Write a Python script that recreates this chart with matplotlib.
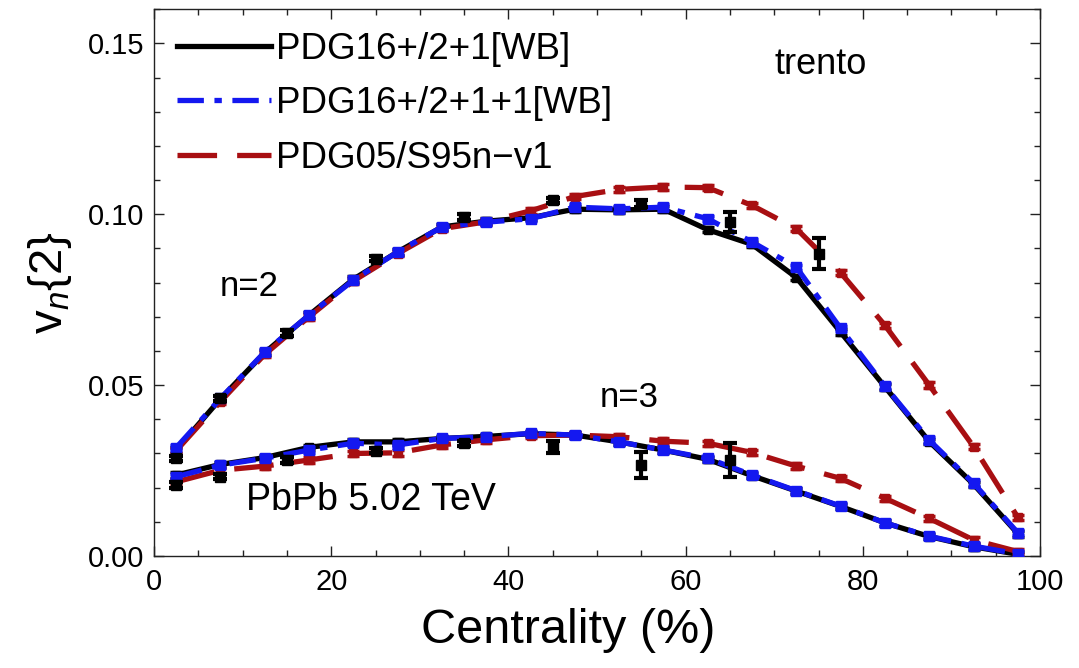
import matplotlib
matplotlib.use("Agg")
import matplotlib.pyplot as plt
from matplotlib.lines import Line2D
from matplotlib.ticker import MultipleLocator

plt.rcParams['font.family'] = ['Liberation Sans', 'DejaVu Sans']
plt.rcParams['mathtext.fontset'] = 'custom'
plt.rcParams['mathtext.rm'] = 'Liberation Sans'
plt.rcParams['mathtext.it'] = 'Liberation Sans:italic'

# ---------------- data ----------------
cent_model = [2.5, 7.5, 12.5, 17.5, 22.5, 27.5, 32.5, 37.5, 42.5, 47.5,
              52.5, 57.5, 62.5, 67.5, 72.5, 77.5, 82.5, 87.5, 92.5, 97.5]

v2_black = [0.0310, 0.0460, 0.0595, 0.0705, 0.0810, 0.0890, 0.0963, 0.0980, 0.0990, 0.1015,
            0.1013, 0.1015, 0.0955, 0.0912, 0.0815, 0.0655, 0.0495, 0.0335, 0.0210, 0.0065]
v2_blue = [0.0317, 0.0461, 0.0597, 0.0705, 0.0807, 0.0890, 0.0963, 0.0977, 0.0987, 0.1021,
           0.1016, 0.1021, 0.0987, 0.0919, 0.0845, 0.0666, 0.0497, 0.0339, 0.0213, 0.0068]
v2_red = [0.0308, 0.0452, 0.0590, 0.0700, 0.0805, 0.0885, 0.0958, 0.0978, 0.1010, 0.1052,
          0.1073, 0.1080, 0.1078, 0.1026, 0.0958, 0.0829, 0.0675, 0.0500, 0.0320, 0.0113]

v3_black = [0.0237, 0.0268, 0.0288, 0.0318, 0.0334, 0.0334, 0.0344, 0.0350, 0.0358, 0.0354,
            0.0334, 0.0310, 0.0283, 0.0235, 0.0190, 0.0145, 0.0097, 0.0057, 0.0027, 0.0005]
v3_blue = [0.0232, 0.0266, 0.0286, 0.0310, 0.0330, 0.0325, 0.0344, 0.0349, 0.0359, 0.0354,
           0.0334, 0.0310, 0.0286, 0.0237, 0.0191, 0.0146, 0.0097, 0.0058, 0.0029, 0.0006]
v3_red = [0.0217, 0.0251, 0.0263, 0.0281, 0.0300, 0.0302, 0.0325, 0.0340, 0.0352, 0.0354,
          0.0349, 0.0336, 0.0330, 0.0303, 0.0263, 0.0227, 0.0169, 0.0110, 0.0047, 0.0013]

cent_data2 = [2.5, 7.5, 15, 25, 35, 45, 55, 65, 75]
v2_data = [0.0286, 0.0461, 0.0653, 0.0870, 0.0992, 0.1041, 0.1031, 0.0977, 0.0885]
v2_err = [0.0008, 0.0008, 0.0008, 0.0008, 0.0008, 0.0008, 0.0010, 0.0030, 0.0046]

cent_data3 = [2.5, 7.5, 15, 25, 35, 45, 55, 65]
v3_data = [0.0208, 0.0232, 0.0281, 0.0308, 0.0330, 0.0320, 0.0266, 0.0280]
v3_err = [0.0008, 0.0008, 0.0008, 0.0008, 0.0008, 0.0018, 0.0037, 0.0050]

labels = ['PDG16+/2+1[WB]', 'PDG16+/2+1+1[WB]', 'PDG05/S95n\u2212v1']

# ---------------- style ----------------
C_BLACK = '#000000'
C_BLUE = '#1418f0'
C_RED = '#a80f12'
LW = 3.8
LS_BLACK = '-'
LS_BLUE = (0, (5, 2, 1.4, 2))
LS_RED = (0, (7.5, 3.8))
MODEL_ERR = 0.0008

fig = plt.figure(figsize=(10.79, 6.68), dpi=100)
ax = fig.add_axes([154 / 1079, 1 - 556 / 668, 886 / 1079, 546.7 / 668])


def model(x, y, color, ls, ms, z):
    ax.plot(x, y, color=color, lw=LW, ls=ls, zorder=z)
    ax.errorbar(x, y, yerr=MODEL_ERR, fmt='s', color=color, ms=ms, mec=color,
                elinewidth=2.5, capsize=4, capthick=2.5, zorder=z + 0.1)


model(cent_model, v2_black, C_BLACK, LS_BLACK, 6, 2)
model(cent_model, v3_black, C_BLACK, LS_BLACK, 6, 2)
model(cent_model, v2_red, C_RED, LS_RED, 6, 3)
model(cent_model, v3_red, C_RED, LS_RED, 6, 3)
model(cent_model, v2_blue, C_BLUE, LS_BLUE, 7, 4)
model(cent_model, v3_blue, C_BLUE, LS_BLUE, 7, 4)

for x, y, e in [(cent_data2, v2_data, v2_err), (cent_data3, v3_data, v3_err)]:
    ax.errorbar(x, y, yerr=e, fmt='s', color='black', ms=7.5, elinewidth=3,
                capsize=5, capthick=3, zorder=5)

ax.set_xlim(0, 100)
ax.set_ylim(0, 0.16)
ax.xaxis.set_major_locator(MultipleLocator(20))
ax.xaxis.set_minor_locator(MultipleLocator(5))
ax.yaxis.set_major_locator(MultipleLocator(0.05))
ax.yaxis.set_minor_locator(MultipleLocator(0.01))
ax.yaxis.set_major_formatter(matplotlib.ticker.FormatStrFormatter('%.2f'))
ax.tick_params(which='both', direction='in', top=True, right=True, width=1.0,
               labelsize=21, colors='#222222', labelcolor='black')
ax.tick_params(which='major', length=7)
ax.tick_params(which='minor', length=4)
ax.tick_params(axis='x', which='major', pad=9)
ax.tick_params(axis='y', which='major', pad=7)
for s in ax.spines.values():
    s.set_linewidth(1.0)
    s.set_color('#222222')

ax.set_xlabel('Centrality (%)', fontsize=35)
ax.xaxis.set_label_coords(0.467, -0.095)
ax.set_ylabel(r'$\mathrm{v}_{n}\mathrm{\{2\}}$', fontsize=34, labelpad=10)

ax.text(10.7, 0.0789, 'n=2', fontsize=25, ha='center', va='center')
ax.text(53.6, 0.0465, 'n=3', fontsize=25, ha='center', va='center')
ax.text(24.5, 0.0164, 'PbPb 5.02 TeV', fontsize=27, ha='center', va='center')
ax.text(75.2, 0.1439, 'trento', fontsize=26, ha='center', va='center')

handles = [Line2D([], [], color=C_BLACK, lw=LW, ls=LS_BLACK),
           Line2D([], [], color=C_BLUE, lw=LW, ls=LS_BLUE),
           Line2D([], [], color=C_RED, lw=LW, ls=LS_RED)]
ax.legend(handles, labels, loc='upper left', bbox_to_anchor=(0.005, 0.993),
          frameon=False, fontsize=26.5, handlelength=2.55, handletextpad=0.14,
          labelspacing=0.53, borderaxespad=0.3, borderpad=0.2)

fig.savefig('out.png', dpi=100)
